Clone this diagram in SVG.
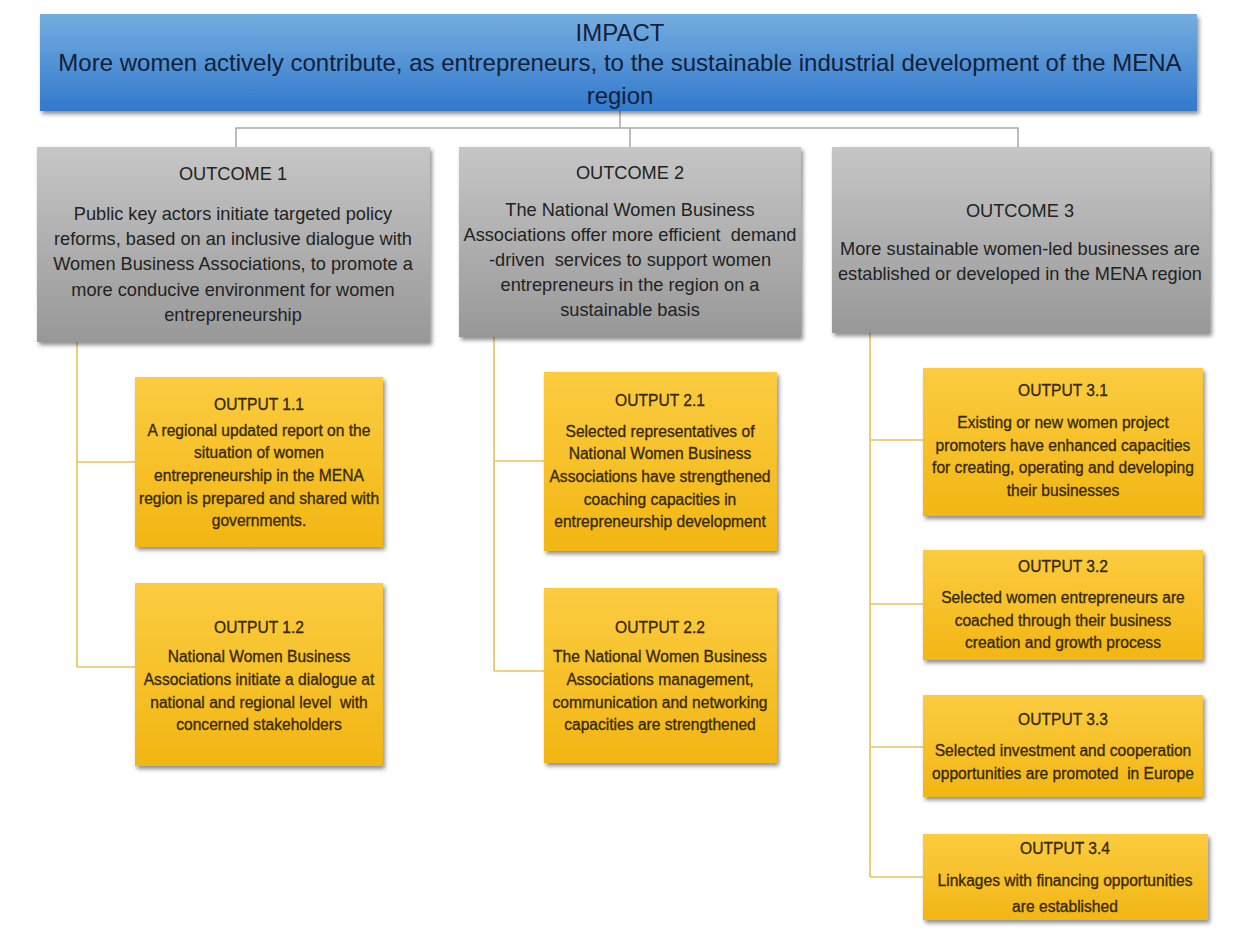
<svg xmlns="http://www.w3.org/2000/svg" width="1234" height="935" viewBox="0 0 1234 935">
  <defs>
    <linearGradient id="gBlue" x1="0" y1="0" x2="0" y2="1">
      <stop offset="0" stop-color="#74addf"/>
      <stop offset="1" stop-color="#3279cc"/>
    </linearGradient>
    <linearGradient id="gGrey" x1="0" y1="0" x2="0" y2="1">
      <stop offset="0" stop-color="#c6c6c6"/>
      <stop offset="1" stop-color="#989898"/>
    </linearGradient>
    <linearGradient id="gGold" x1="0" y1="0" x2="0" y2="1">
      <stop offset="0" stop-color="#fbcc40"/>
      <stop offset="1" stop-color="#f2b614"/>
    </linearGradient>
    <filter id="shadow" x="-5%" y="-5%" width="112%" height="120%">
      <feDropShadow dx="2" dy="3" stdDeviation="2" flood-color="#000" flood-opacity="0.45"/>
    </filter>
  </defs>
  <style>
    text { font-family: "Liberation Sans", Arial, sans-serif; text-anchor: middle; white-space: pre; }
    .impact { fill: url(#gBlue); filter: url(#shadow); }
    .outcome { fill: url(#gGrey); filter: url(#shadow); }
    .output { fill: url(#gGold); filter: url(#shadow); }
    .t-impact { font-size: 24px; fill: #14203a; }
    .t-outcome { font-size: 18.2px; fill: #222222; }
    .t-output { font-size: 15.6px; fill: #352800; stroke: #352800; stroke-width: 0.3; }
    .link-grey { fill: none; stroke: #a8a8a8; stroke-width: 1.5; }
    .link-gold { fill: none; stroke: #e6c45c; stroke-width: 1.6; }
  </style>

  <rect width="1234" height="935" fill="#ffffff"/>

  <!-- connectors -->
  <g id="connectors">
    <path class="link-grey" d="M620 111 V128 M236 147 V128 H1018 V147 M630 128 V147"/>
    <path class="link-gold" d="M77 342 V667 M77 462 H135 M77 667 H135"/>
    <path class="link-gold" d="M494 337 V671 M494 461 H544 M494 671 H544"/>
    <path class="link-gold" d="M870 333 V877 M870 440 H923 M870 604 H923 M870 747 H923 M870 877 H923"/>
  </g>

  <!-- impact -->
  <g id="impact">
    <rect class="impact" x="40" y="14" width="1157" height="97"/>
    <text class="t-impact" x="620" y="41">IMPACT</text>
    <text class="t-impact" x="620" y="71">More women actively contribute, as entrepreneurs, to the sustainable industrial development of the MENA</text>
    <text class="t-impact" x="620" y="104">region</text>
  </g>

  <!-- outcomes -->
  <g id="outcome1">
    <rect class="outcome" x="37" y="147" width="393" height="195"/>
    <text class="t-outcome" x="233" y="180">OUTCOME 1</text>
    <text class="t-outcome" x="233" y="220">Public key actors initiate targeted policy</text>
    <text class="t-outcome" x="233" y="245">reforms, based on an inclusive dialogue with</text>
    <text class="t-outcome" x="233" y="270">Women Business Associations, to promote a</text>
    <text class="t-outcome" x="233" y="296">more conducive environment for women</text>
    <text class="t-outcome" x="233" y="321">entrepreneurship</text>
  </g>

  <g id="outcome2">
    <rect class="outcome" x="459" y="147" width="342" height="190"/>
    <text class="t-outcome" x="630" y="179">OUTCOME 2</text>
    <text class="t-outcome" x="630" y="216">The National Women Business</text>
    <text class="t-outcome" x="630" y="241">Associations offer more efficient  demand</text>
    <text class="t-outcome" x="630" y="266">-driven  services to support women</text>
    <text class="t-outcome" x="630" y="291">entrepreneurs in the region on a</text>
    <text class="t-outcome" x="630" y="316">sustainable basis</text>
  </g>

  <g id="outcome3">
    <rect class="outcome" x="832" y="147" width="378" height="186"/>
    <text class="t-outcome" x="1020" y="217">OUTCOME 3</text>
    <text class="t-outcome" x="1020" y="255">More sustainable women-led businesses are</text>
    <text class="t-outcome" x="1020" y="280">established or developed in the MENA region</text>
  </g>

  <!-- outputs -->
  <g id="output11">
    <rect class="output" x="135" y="377" width="248" height="170"/>
    <text class="t-output" x="259" y="410">OUTPUT 1.1</text>
    <text class="t-output" x="259" y="436">A regional updated report on the</text>
    <text class="t-output" x="259" y="458">situation of women</text>
    <text class="t-output" x="259" y="481">entrepreneurship in the MENA</text>
    <text class="t-output" x="259" y="504">region is prepared and shared with</text>
    <text class="t-output" x="259" y="526">governments.</text>
  </g>

  <g id="output12">
    <rect class="output" x="135" y="583" width="248" height="183"/>
    <text class="t-output" x="259" y="633">OUTPUT 1.2</text>
    <text class="t-output" x="259" y="662">National Women Business</text>
    <text class="t-output" x="259" y="685">Associations initiate a dialogue at</text>
    <text class="t-output" x="259" y="708">national and regional level  with</text>
    <text class="t-output" x="259" y="730">concerned stakeholders</text>
  </g>

  <g id="output21">
    <rect class="output" x="544" y="372" width="233" height="179"/>
    <text class="t-output" x="660" y="406">OUTPUT 2.1</text>
    <text class="t-output" x="660" y="437">Selected representatives of</text>
    <text class="t-output" x="660" y="459">National Women Business</text>
    <text class="t-output" x="660" y="482">Associations have strengthened</text>
    <text class="t-output" x="660" y="505">coaching capacities in</text>
    <text class="t-output" x="660" y="527">entrepreneurship development</text>
  </g>

  <g id="output22">
    <rect class="output" x="544" y="588" width="233" height="175"/>
    <text class="t-output" x="660" y="633">OUTPUT 2.2</text>
    <text class="t-output" x="660" y="662">The National Women Business</text>
    <text class="t-output" x="660" y="685">Associations management,</text>
    <text class="t-output" x="660" y="708">communication and networking</text>
    <text class="t-output" x="660" y="730">capacities are strengthened</text>
  </g>

  <g id="output31">
    <rect class="output" x="923" y="368" width="280" height="148"/>
    <text class="t-output" x="1063" y="396">OUTPUT 3.1</text>
    <text class="t-output" x="1063" y="428">Existing or new women project</text>
    <text class="t-output" x="1063" y="451">promoters have enhanced capacities</text>
    <text class="t-output" x="1063" y="473">for creating, operating and developing</text>
    <text class="t-output" x="1063" y="496">their businesses</text>
  </g>

  <g id="output32">
    <rect class="output" x="923" y="550" width="280" height="110"/>
    <text class="t-output" x="1063" y="572">OUTPUT 3.2</text>
    <text class="t-output" x="1063" y="603">Selected women entrepreneurs are</text>
    <text class="t-output" x="1063" y="626">coached through their business</text>
    <text class="t-output" x="1063" y="648">creation and growth process</text>
  </g>

  <g id="output33">
    <rect class="output" x="923" y="695" width="280" height="102"/>
    <text class="t-output" x="1063" y="725">OUTPUT 3.3</text>
    <text class="t-output" x="1063" y="756">Selected investment and cooperation</text>
    <text class="t-output" x="1063" y="779">opportunities are promoted  in Europe</text>
  </g>

  <g id="output34">
    <rect class="output" x="923" y="834" width="285" height="86"/>
    <text class="t-output" x="1065" y="854">OUTPUT 3.4</text>
    <text class="t-output" x="1065" y="886">Linkages with financing opportunities</text>
    <text class="t-output" x="1065" y="912">are established</text>
  </g>
</svg>
